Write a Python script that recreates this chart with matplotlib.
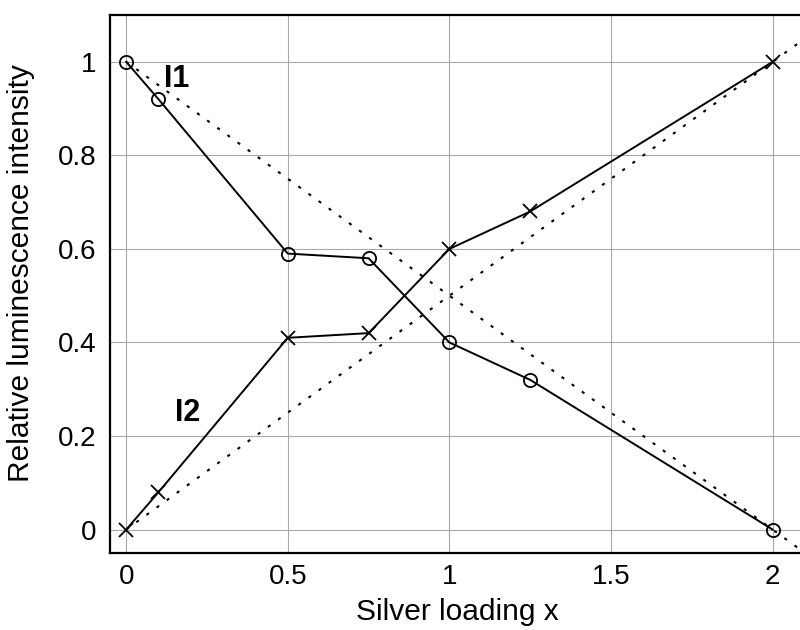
import matplotlib
matplotlib.use('Agg')
import matplotlib.pyplot as plt

plt.rcParams['font.family'] = ['Liberation Sans', 'DejaVu Sans']

# silver loading and measured relative intensities
x_load = [0, 0.1, 0.5, 0.75, 1.0, 1.25, 2.0]
i1 = [1.0, 0.92, 0.59, 0.58, 0.40, 0.32, 0.0]
i2 = [0.0, 0.08, 0.41, 0.42, 0.60, 0.68, 1.0]

# linear reference lines
ideal_x = [0, 2.1]
ideal_i1 = [1.0, -0.05]
ideal_i2 = [0.0, 1.05]

xticks = [0, 0.5, 1, 1.5, 2]
xtick_labels = ['0', '0.5', '1', '1.5', '2']
yticks = [0, 0.2, 0.4, 0.6, 0.8, 1.0]
ytick_labels = ['0', '0.2', '0.4', '0.6', '0.8', '1']

fig = plt.figure(figsize=(8, 6.3), dpi=100)
ax = fig.add_axes([110 / 800, 77 / 630, 695 / 800, 538 / 630])

ax.grid(True, color='#a8a8a8', linewidth=0.8)
ax.set_axisbelow(True)

dots = (0, (1.5, 4.5))
ax.plot(ideal_x, ideal_i1, color='black', linestyle=dots, linewidth=1.5)
ax.plot(ideal_x, ideal_i2, color='black', linestyle=dots, linewidth=1.5)

ax.plot(x_load, i1, color='black', linewidth=1.4, marker='o', markersize=9.5,
        markerfacecolor='none', markeredgewidth=1.3)
ax.plot(x_load, i2, color='black', linewidth=1.4, marker='x', markersize=10,
        markeredgewidth=1.3)

ax.text(0.157, 0.964, 'I1', fontsize=22, fontweight='bold', ha='center', va='center')
ax.text(0.19, 0.25, 'I2', fontsize=22, fontweight='bold', ha='center', va='center')

ax.set_xlim(-0.05, 2.1)
ax.set_ylim(-0.05, 1.1)
ax.set_xticks(xticks)
ax.set_xticklabels(xtick_labels)
ax.set_yticks(yticks)
ax.set_yticklabels(ytick_labels)
ax.tick_params(length=0, labelsize=20)
ax.tick_params(axis='y', pad=10)
ax.tick_params(axis='x', pad=8)

for s in ['top', 'left', 'bottom', 'right']:
    ax.spines[s].set_linewidth(1.6)

ax.set_xlabel('Silver loading x', fontsize=21.5)
ax.set_ylabel('Relative luminescence intensity', fontsize=21.5)
ax.xaxis.set_label_coords(0.5, -0.083)
ax.yaxis.set_label_coords(-0.108, 0.52)

fig.savefig('out.png', dpi=100)
